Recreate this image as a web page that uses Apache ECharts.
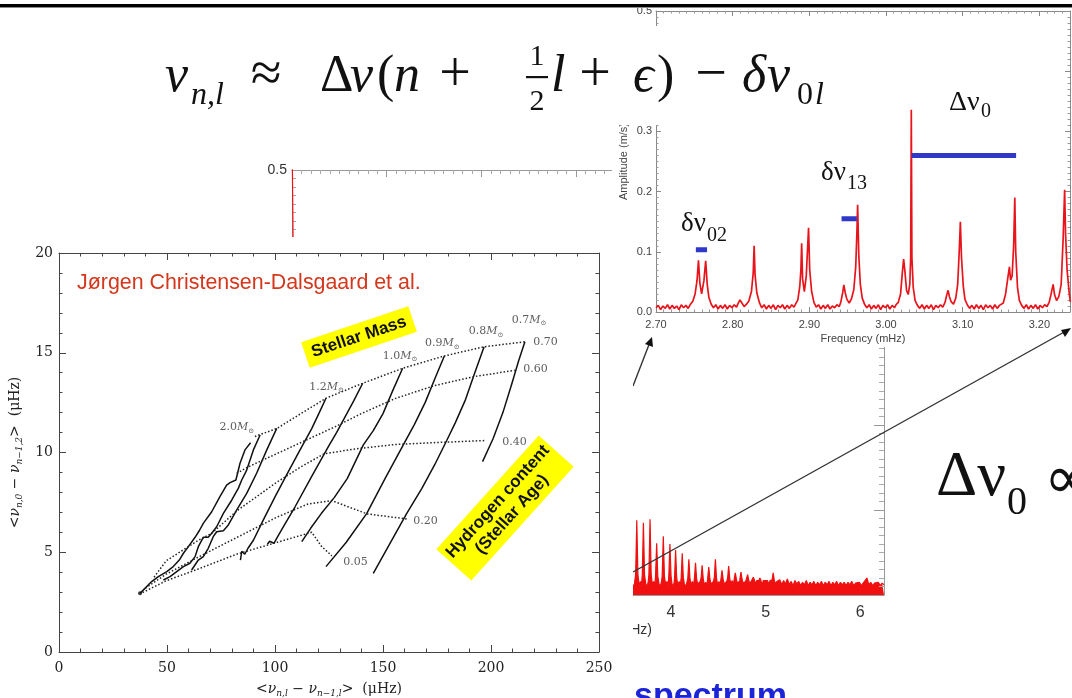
<!DOCTYPE html>
<html>
<head>
<meta charset="utf-8">
<script src="https://cdn.jsdelivr.net/npm/echarts/dist/echarts.min.js"></script>
<style>
html,body{margin:0;padding:0;background:#fff;}
#chart{width:1072px;height:698px;}
</style>
</head>
<body>
<div id="chart"></div>
<script>
// ---- Asteroseismic diagram: large vs. small frequency separation (µHz) ----
const xTicks = [0, 50, 100, 150, 200, 250];
const yTicks = [0, 5, 10, 15, 20];

// Evolution tracks of constant mass (ZAMS at the top, moving down as hydrogen burns)
const track2_0 = [[88.7,10.49],[86.1,10.13],[83.8,9.46],[81.9,8.62],[79.2,8.49],[77.6,8.37],[74.5,7.79],[70.7,7.03],[66.8,6.45],[65.0,6.09],[63.0,5.75],[59.9,5.28],[57.6,4.95],[55.7,4.61],[52.9,4.28],[49.9,4.03],[46.0,3.78],[42.9,3.53],[39.8,3.19],[37.5,2.94]];
const track1_8 = [[93.1,10.88],[90.0,10.13],[86.9,9.12],[84.6,8.62],[83.0,8.20],[80.0,7.62],[76.1,6.95],[73.0,6.28],[70.7,5.95],[69.1,5.75],[66.8,5.75],[64.5,5.28],[63.0,4.78],[60.6,4.45],[57.6,4.28],[54.5,4.03],[51.4,3.78],[48.3,3.61]];
const track1_6 = [[100.8,11.21],[96.2,10.13],[91.5,8.96],[86.9,7.95],[82.3,7.12],[78.4,6.37],[76.1,6.08],[73.0,6.03],[71.4,5.78],[69.1,5.20],[66.8,4.78],[64.5,4.61],[61.4,4.11]];
const track1_2 = [[123.6,12.72],[120.5,12.0],[117.0,11.2],[111.6,10.13],[105.5,8.9],[100.0,7.78],[94.5,6.6],[90.0,5.6],[87.5,5.2],[86.0,4.9],[84.6,5.05],[84.0,4.6]];
const track1_1 = [[140.6,13.47],[136.5,12.6],[132.5,11.8],[128.5,11.0],[124.7,10.29],[117.0,8.8],[109.3,7.28],[104.5,6.4],[101.3,5.8],[99.5,5.45],[97.5,5.55],[96.5,5.4]];
const track1_0 = [[159.1,14.22],[154.5,13.1],[150.0,11.95],[145.5,11.1],[140.9,10.38],[133.5,8.7],[127.5,7.75],[121.5,6.95],[116.5,6.2],[112.4,5.53]];
const track0_9 = [[178.4,14.84],[174.0,13.7],[169.5,12.5],[164.5,11.4],[159.4,10.38],[151.0,8.7],[142.5,6.95],[133.0,5.5],[123.6,4.28]];
const track0_8 = [[196.8,15.3],[192.5,14.0],[188.0,12.6],[183.5,11.5],[179.5,10.6],[174.0,9.4],[168.0,8.2],[161.0,6.95],[153.5,5.5],[145.5,3.94]];
const track0_7 = [[215.7,15.55],[212.8,14.6],[209.5,13.4],[205.5,12.0],[201.0,10.7],[196.1,9.54]];
const massTracks = [track2_0, track1_8, track1_6, track1_2, track1_1, track1_0, track0_9, track0_8, track0_7];

// Lines of constant central hydrogen content
const hydrogen070 = [[90.7,10.8],[93.1,10.9],[100.8,11.2],[112.0,11.95],[123.6,12.72],[140.6,13.47],[159.1,14.22],[178.4,14.84],[196.8,15.3],[215.7,15.55]];
const hydrogen060 = [[82.3,8.96],[88.0,9.3],[95.0,9.65],[104.0,10.1],[115.0,10.65],[128.0,11.3],[140.0,11.95],[155.5,12.7],[173.7,13.35],[192.0,13.8],[211.0,14.12]];
const hydrogen040 = [[44.0,3.75],[49.6,4.57],[64.2,5.58],[70.7,5.95],[82.5,7.09],[100.7,8.5],[111.7,9.26],[122.6,9.93],[137.2,10.18],[155.5,10.4],[175.0,10.5],[197.4,10.6]];
const hydrogen020 = [[40.0,3.2],[49.6,3.9],[64.2,4.74],[82.5,5.75],[100.7,6.75],[115.3,7.42],[126.3,7.59],[142.7,6.92],[161.0,6.67]];
const hydrogen005 = [[38.7,2.98],[49.6,3.57],[64.2,4.15],[82.5,4.91],[100.7,5.49],[117.0,6.0],[121.5,5.3],[126.3,4.82]];
const hydrogenLines = [hydrogen070, hydrogen060, hydrogen040, hydrogen020, hydrogen005];

const massLabels = [['2.0',82.3,11.25],['1.2',123.9,13.3],['1.0',157.9,14.84],['0.9',177.5,15.46],['0.8',197.7,16.07],['0.7',217.6,16.64]];
const hydrogenLabels = [['0.70',225.2,15.51],['0.60',220.6,14.19],['0.40',210.9,10.53],['0.20',169.7,6.57],['0.05',137.3,4.51]];

// ---- Zoomed power spectrum (mHz, m/s) ----
const insetSpectrum = [
 [2.700,0.007],[2.703,0.011],[2.706,0.004],[2.709,0.010],[2.712,0.006],[2.715,0.012],[2.718,0.005],[2.721,0.011],[2.724,0.006],[2.727,0.010],[2.730,0.004],[2.733,0.012],[2.736,0.007],[2.739,0.011],[2.742,0.006],[2.745,0.013],
 [2.748,0.018],[2.751,0.030],[2.7535,0.052],[2.7554,0.086],[2.7572,0.048],[2.7595,0.030],[2.7625,0.052],[2.7648,0.085],[2.7668,0.046],[2.769,0.024],[2.772,0.013],
 [2.775,0.007],[2.778,0.012],[2.781,0.005],[2.784,0.011],[2.787,0.006],[2.790,0.012],[2.793,0.005],[2.796,0.011],[2.799,0.007],[2.802,0.012],[2.805,0.008],
 [2.807,0.014],[2.8095,0.020],[2.811,0.022],[2.8125,0.014],[2.815,0.009],[2.818,0.013],
 [2.821,0.018],[2.8245,0.034],[2.8268,0.065],[2.828,0.110],[2.8292,0.062],[2.8315,0.032],[2.835,0.015],
 [2.838,0.007],[2.841,0.012],[2.844,0.005],[2.847,0.011],[2.850,0.006],[2.853,0.012],[2.856,0.004],[2.859,0.011],[2.862,0.007],[2.865,0.012],[2.868,0.005],[2.871,0.011],[2.874,0.006],[2.877,0.012],[2.880,0.008],[2.882,0.013],
 [2.885,0.020],[2.8875,0.042],[2.889,0.070],[2.890,0.114],[2.8912,0.055],[2.8935,0.034],[2.896,0.060],[2.899,0.140],[2.9005,0.070],[2.903,0.034],[2.906,0.016],
 [2.909,0.008],[2.912,0.012],[2.915,0.005],[2.918,0.011],[2.921,0.006],[2.924,0.012],[2.927,0.005],[2.930,0.010],[2.933,0.007],[2.936,0.012],[2.939,0.009],
 [2.941,0.016],[2.9435,0.032],[2.945,0.045],[2.9468,0.032],[2.949,0.021],[2.952,0.015],[2.955,0.022],[2.958,0.037],[2.9605,0.075],[2.962,0.130],[2.963,0.178],[2.9645,0.095],[2.9665,0.046],[2.969,0.023],[2.972,0.013],
 [2.975,0.007],[2.978,0.012],[2.981,0.005],[2.984,0.011],[2.987,0.006],[2.990,0.012],[2.993,0.004],[2.996,0.011],[2.999,0.007],[3.002,0.012],[3.005,0.005],[3.008,0.011],[3.011,0.007],[3.013,0.012],
 [3.016,0.016],[3.019,0.030],[3.0213,0.065],[3.023,0.088],[3.0245,0.070],[3.0268,0.036],[3.029,0.029],[3.031,0.046],[3.0322,0.090],[3.033,0.336],[3.0338,0.090],[3.0355,0.041],[3.038,0.019],[3.041,0.011],
 [3.044,0.006],[3.047,0.012],[3.050,0.005],[3.053,0.011],[3.056,0.006],[3.059,0.012],[3.062,0.004],[3.065,0.011],[3.068,0.007],[3.071,0.012],[3.074,0.008],
 [3.077,0.016],[3.079,0.027],[3.081,0.036],[3.0828,0.025],[3.085,0.017],[3.088,0.013],[3.091,0.023],[3.0935,0.046],[3.0955,0.100],[3.097,0.150],[3.0985,0.090],[3.1008,0.043],[3.103,0.021],[3.106,0.012],
 [3.109,0.006],[3.112,0.011],[3.115,0.005],[3.118,0.012],[3.121,0.006],[3.124,0.011],[3.127,0.004],[3.130,0.012],[3.133,0.007],[3.136,0.011],[3.139,0.005],[3.142,0.012],[3.145,0.006],[3.148,0.011],[3.150,0.008],
 [3.153,0.015],[3.156,0.030],[3.1588,0.056],[3.161,0.075],[3.1625,0.053],[3.1645,0.060],[3.1665,0.110],[3.168,0.190],[3.1692,0.100],[3.1715,0.041],[3.174,0.019],[3.177,0.011],
 [3.180,0.006],[3.183,0.012],[3.186,0.005],[3.189,0.011],[3.192,0.006],[3.195,0.012],[3.198,0.005],[3.201,0.011],[3.204,0.007],[3.207,0.012],[3.210,0.009],
 [3.213,0.017],[3.2155,0.031],[3.218,0.046],[3.2198,0.029],[3.2225,0.019],[3.2255,0.026],[3.2285,0.046],[3.231,0.120],[3.233,0.203],[3.2342,0.130],[3.2362,0.070],[3.239,0.031],[3.2405,0.017]
];
// Frequency separations marked on the zoomed spectrum: [from, to, amplitude]
const separationBars = [[2.752,2.7666,0.1035],[2.942,2.962,0.155],[3.0334,3.1697,0.26]];

// ---- Full power spectrum in the background (mHz, m/s) ----
const fullSpectrum = [
 [0.0,0.55],[0.03,0.2],[0.1,0.05],
 [3.55,0.011],[3.58,0.014],[3.60,0.010],[3.615,0.013],
 [3.628,0.024],[3.640,0.088],[3.652,0.024],[3.665,0.012],[3.68,0.016],[3.69,0.011],
 [3.698,0.024],[3.710,0.085],[3.722,0.024],[3.735,0.013],[3.748,0.010],[3.76,0.015],
 [3.768,0.024],[3.780,0.089],[3.792,0.024],[3.805,0.012],[3.818,0.016],[3.83,0.011],
 [3.838,0.022],[3.850,0.061],[3.862,0.022],[3.875,0.013],[3.888,0.010],[3.90,0.015],
 [3.908,0.022],[3.920,0.069],[3.932,0.022],[3.945,0.012],[3.958,0.016],[3.97,0.011],
 [3.978,0.022],[3.990,0.060],[4.002,0.022],[4.012,0.013],[4.025,0.010],[4.035,0.015],
 [4.039,0.021],[4.050,0.053],[4.061,0.021],[4.072,0.012],[4.088,0.016],[4.10,0.011],
 [4.109,0.021],[4.120,0.049],[4.131,0.021],[4.142,0.013],[4.157,0.010],[4.17,0.015],
 [4.179,0.020],[4.190,0.042],[4.201,0.020],[4.212,0.012],[4.227,0.016],[4.24,0.011],
 [4.249,0.020],[4.260,0.038],[4.271,0.020],[4.282,0.013],[4.297,0.011],[4.31,0.016],
 [4.319,0.020],[4.330,0.035],[4.341,0.020],[4.352,0.012],[4.367,0.015],[4.38,0.011],
 [4.389,0.020],[4.400,0.033],[4.411,0.020],[4.422,0.013],[4.437,0.011],[4.45,0.016],
 [4.459,0.021],[4.470,0.042],[4.481,0.021],[4.492,0.012],[4.507,0.016],[4.52,0.012],
 [4.529,0.019],[4.540,0.029],[4.551,0.019],[4.562,0.013],[4.577,0.011],[4.59,0.016],
 [4.599,0.020],[4.610,0.034],[4.621,0.020],[4.632,0.013],[4.647,0.017],[4.66,0.012],
 [4.669,0.019],[4.680,0.026],[4.691,0.019],[4.702,0.013],[4.715,0.016],[4.725,0.012],
 [4.729,0.019],[4.740,0.027],[4.751,0.019],[4.762,0.014],[4.777,0.012],[4.79,0.016],
 [4.799,0.018],[4.810,0.024],[4.821,0.018],[4.832,0.013],[4.847,0.016],
 [4.859,0.018],[4.870,0.021],[4.881,0.018],[4.892,0.013],[4.907,0.017],
 [4.929,0.017],[4.940,0.020],[4.951,0.017],[4.962,0.012],[4.977,0.017],
 [4.999,0.017],[5.010,0.019],[5.021,0.017],[5.032,0.012],[5.047,0.017],
 [5.069,0.018],[5.080,0.026],[5.091,0.018],[5.102,0.013],[5.12,0.016],
 [5.15,0.018],[5.17,0.012],[5.19,0.017],[5.21,0.013],[5.23,0.019],[5.25,0.012],
 [5.27,0.016],[5.29,0.011],[5.31,0.017],[5.33,0.013],[5.35,0.016],[5.37,0.011],
 [5.39,0.015],[5.41,0.012],[5.43,0.017],[5.45,0.011],[5.47,0.015],[5.49,0.012],
 [5.51,0.016],[5.53,0.011],[5.55,0.015],[5.57,0.012],[5.59,0.016],[5.61,0.011],
 [5.63,0.015],[5.65,0.012],[5.67,0.016],[5.69,0.011],[5.71,0.015],[5.73,0.012],
 [5.75,0.016],[5.77,0.011],[5.79,0.015],[5.81,0.012],[5.83,0.015],[5.85,0.011],
 [5.87,0.015],[5.89,0.012],[5.91,0.016],[5.93,0.011],[5.95,0.014],[5.97,0.012],
 [5.99,0.015],[6.01,0.011],[6.03,0.014],[6.05,0.012],[6.07,0.020],[6.09,0.012],
 [6.11,0.015],[6.13,0.011],[6.15,0.014],[6.17,0.012],[6.19,0.015],[6.21,0.011],
 [6.23,0.014],[6.25,0.012]
];

// ---------------------------------------------------------------------------
const SERIF = '"Liberation Serif", "Times New Roman", serif';
const SANS = '"Liberation Sans", Arial, sans-serif';
const IDL = '"DejaVu Serif", serif';

const chart = echarts.init(document.getElementById('chart'), null, {renderer: 'canvas'});

// labels only on whole multiples of the tick step (no label at an odd axis end)
const onStep = (v, step) => Math.abs(v / step - Math.round(v / step)) < 1e-6;

function frameAxis(base, extra) {
  return Object.assign({
    type: 'value',
    splitLine: {show: false},
    minorSplitLine: {show: false},
    axisLine: {show: true, onZero: false, lineStyle: {color: '#444', width: 1}},
    axisTick: {show: true, inside: true, length: 7, lineStyle: {color: '#444', width: 1}},
    minorTick: {show: true, splitNumber: 5, length: 3.5, lineStyle: {color: '#444', width: 1}},
    axisLabel: {show: false}
  }, base, extra || {});
}

const mainLabel = {show: true, fontFamily: IDL, fontSize: 14, color: '#222', showMinLabel: true, showMaxLabel: true};
const subRich = {
  i: {fontFamily: IDL, fontStyle: 'italic', fontSize: 14, color: '#222'},
  s: {fontFamily: IDL, fontStyle: 'italic', fontSize: 9, color: '#222', padding: [9, 0, 0, 0]},
  t: {fontFamily: IDL, fontSize: 14, color: '#222'}
};
const insetLine = {show: true, onZero: false, lineStyle: {color: '#888'}};
const insetTick = {show: true, inside: true, length: 5, lineStyle: {color: '#888'}};
const insetMinor = {show: true, splitNumber: 10, length: 2.5, lineStyle: {color: '#999'}};
const fullLine = {show: true, onZero: false, lineStyle: {color: '#999'}};

const xAxes = [
  // main diagram
  frameAxis({gridIndex: 0, position: 'bottom', min: 0, max: 250, interval: 50, z: 9,
    axisLabel: Object.assign({margin: 9}, mainLabel),
    name: '{t|<}{i|ν}{s|n,l}{t| − }{i|ν}{s|n−1,l}{t|>  (μHz)}',
    nameLocation: 'middle', nameGap: 28,
    nameTextStyle: {rich: subRich}}),
  frameAxis({gridIndex: 0, position: 'top', min: 0, max: 250, interval: 50, z: 9}),
  // zoomed spectrum
  frameAxis({gridIndex: 1, position: 'bottom', min: 2.7, max: 3.24, interval: 0.1, z: 4,
    axisLine: insetLine, axisTick: insetTick, minorTick: insetMinor,
    axisLabel: {show: true, showMaxLabel: false, margin: 7, fontFamily: SANS, fontSize: 11, color: '#444',
      formatter: v => onStep(v, 0.1) ? v.toFixed(2) : ''},
    name: 'Frequency (mHz)', nameLocation: 'middle', nameGap: 21,
    nameTextStyle: {fontFamily: SANS, fontSize: 11, color: '#444'}}),
  frameAxis({gridIndex: 1, position: 'top', min: 2.7, max: 3.24, interval: 0.1, z: 4,
    axisLine: insetLine, axisTick: insetTick, minorTick: insetMinor}),
  // full spectrum
  frameAxis({gridIndex: 2, position: 'bottom', min: 0, max: 6.25, interval: 1, z: 1,
    axisLine: fullLine, axisTick: {show: false}, minorTick: {show: false},
    axisLabel: {show: true, showMaxLabel: false, margin: 10, fontFamily: SANS, fontSize: 16, color: '#333',
      formatter: v => onStep(v, 1) ? String(Math.round(v)) : ''}}),
  frameAxis({gridIndex: 2, position: 'top', min: 0, max: 6.25, interval: 1, z: 1,
    axisLine: fullLine,
    axisTick: {show: true, inside: true, length: 7, lineStyle: {color: '#999'}},
    minorTick: {show: true, splitNumber: 10, length: 4, lineStyle: {color: '#aaa'}}})
];

const yAxes = [
  frameAxis({gridIndex: 0, position: 'left', min: 0, max: 20, interval: 5, z: 9,
    axisLabel: Object.assign({margin: 6}, mainLabel),
    name: '{t|<}{i|ν}{s|n,0}{t| − }{i|ν}{s|n−1,2}{t|>  (μHz)}',
    nameLocation: 'middle', nameGap: 31,
    nameTextStyle: {rich: subRich}}),
  frameAxis({gridIndex: 0, position: 'right', min: 0, max: 20, interval: 5, z: 9}),
  frameAxis({gridIndex: 1, position: 'left', min: 0, max: 0.5, interval: 0.1, z: 4,
    axisLine: insetLine, axisTick: insetTick, minorTick: insetMinor,
    axisLabel: {show: true, margin: 4, fontFamily: SANS, fontSize: 11, color: '#444',
      formatter: v => v.toFixed(1)},
    name: 'Amplitude (m/s)', nameLocation: 'middle', nameGap: 27,
    nameTextStyle: {fontFamily: SANS, fontSize: 11, color: '#444'}}),
  frameAxis({gridIndex: 1, position: 'right', min: 0, max: 0.5, interval: 0.1, z: 4,
    axisLine: insetLine, axisTick: insetTick, minorTick: insetMinor}),
  frameAxis({gridIndex: 2, position: 'left', min: 0, max: 0.5, interval: 0.1, z: 1,
    axisLine: fullLine,
    axisTick: {show: true, inside: true, length: 8, lineStyle: {color: '#999'}},
    minorTick: {show: true, splitNumber: 10, length: 4, lineStyle: {color: '#aaa'}},
    axisLabel: {show: true, margin: 5, fontFamily: SANS, fontSize: 14, color: '#333',
      formatter: v => v.toFixed(1)}}),
  frameAxis({gridIndex: 2, position: 'right', min: 0, max: 0.5, interval: 0.1, z: 1,
    axisLine: fullLine,
    axisTick: {show: true, inside: true, length: 10, lineStyle: {color: '#999'}},
    minorTick: {show: true, splitNumber: 10, length: 5, lineStyle: {color: '#aaa'}}})
];

const series = [];
massTracks.forEach(t => series.push({
  type: 'line', xAxisIndex: 0, yAxisIndex: 0, data: t, z: 10, silent: true,
  showSymbol: false, symbol: 'none', lineStyle: {color: '#111', width: 1.5}
}));
hydrogenLines.forEach(t => series.push({
  type: 'line', xAxisIndex: 0, yAxisIndex: 0, data: t, z: 10, silent: true,
  showSymbol: false, symbol: 'none', lineStyle: {color: '#222', width: 1.5, type: [1.5, 2]}
}));
series.push({
  type: 'scatter', xAxisIndex: 0, yAxisIndex: 0, z: 11, silent: true,
  symbolSize: 4, itemStyle: {color: '#111'}, data: [track2_0[track2_0.length - 1]]
});
series.push({
  type: 'scatter', xAxisIndex: 0, yAxisIndex: 0, z: 11, silent: true, symbolSize: 0,
  data: massLabels.map(m => ({name: m[0], value: [m[1], m[2]]})),
  label: {show: true, position: 'inside', fontFamily: IDL, fontSize: 11, color: '#333',
    formatter: p => p.name + '{m|M}{o|⊙}',
    rich: {m: {fontFamily: IDL, fontStyle: 'italic', fontSize: 11, color: '#333'},
           o: {fontFamily: IDL, fontSize: 7, color: '#333', padding: [7, 0, 0, 0]}}}
});
series.push({
  type: 'scatter', xAxisIndex: 0, yAxisIndex: 0, z: 11, silent: true, symbolSize: 0,
  data: hydrogenLabels.map(m => ({name: m[0], value: [m[1], m[2]]})),
  label: {show: true, position: 'inside', fontFamily: IDL, fontSize: 11, color: '#333',
    formatter: p => p.name}
});
series.push({
  type: 'line', xAxisIndex: 2, yAxisIndex: 2, data: insetSpectrum, z: 4, silent: true,
  showSymbol: false, symbol: 'none', lineStyle: {color: '#e8141c', width: 1.7}
});
separationBars.forEach(b => series.push({
  type: 'line', xAxisIndex: 2, yAxisIndex: 2, data: [[b[0], b[2]], [b[1], b[2]]], z: 5, silent: true,
  showSymbol: false, symbol: 'none', lineStyle: {color: '#2f38c8', width: 5, cap: 'butt'}
}));
series.push({
  type: 'line', xAxisIndex: 4, yAxisIndex: 4, data: fullSpectrum, z: 1, silent: true,
  showSymbol: false, symbol: 'none', lineStyle: {color: '#f01010', width: 1.2},
  areaStyle: {color: '#f01010', opacity: 1}
});

// text pieces placed by their baseline
function word(text, x, baseline, size, opt) {
  opt = opt || {};
  const font = (opt.italic ? 'italic ' : '') + (opt.bold ? 'bold ' : '') + size + 'px ' + (opt.family || SERIF);
  return {
    type: 'text', x: x, y: baseline - 0.34 * size, z: opt.z || 7, silent: true,
    style: {text: text, font: font, fill: opt.color || '#111',
      align: opt.align || 'left', verticalAlign: 'middle',
      textAlign: opt.align || 'left', textVerticalAlign: 'middle'}
  };
}

const graphics = [
  // panel backgrounds (stacking order of the slide)
  {type: 'rect', z: 3, silent: true, shape: {x: 612, y: 8, width: 460, height: 339}, style: {fill: '#fff'}},
  {type: 'rect', z: 6, silent: true, shape: {x: 150, y: 26, width: 700, height: 99}, style: {fill: '#fff'}},
  {type: 'rect', z: 8, silent: true, shape: {x: 0, y: 237, width: 633, height: 461}, style: {fill: '#fff'}},
  // slide rule at the top
  {type: 'rect', z: 12, silent: true, shape: {x: 0, y: 4, width: 1072, height: 3}, style: {fill: '#000'}},
  {type: 'rect', z: 12, silent: true, shape: {x: 0, y: 7, width: 1072, height: 1}, style: {fill: '#888'}},

  // formula
  word('ν', 165, 95, 52, {italic: true}),
  word('n,l', 191, 106, 32, {italic: true}),
  word('≈', 266, 95, 56, {align: 'center'}),
  word('Δ', 320, 95, 52),
  word('ν', 350, 95, 52, {italic: true}),
  word('(', 377, 95, 52),
  word('n', 394, 95, 52, {italic: true}),
  word('+', 455, 95, 56, {align: 'center'}),
  word('1', 537, 67, 30, {align: 'center'}),
  {type: 'rect', z: 7, silent: true, shape: {x: 526, y: 76, width: 22, height: 2.2}, style: {fill: '#111'}},
  word('2', 537, 112, 30, {align: 'center'}),
  word('l', 551, 95, 52, {italic: true}),
  word('+', 595, 95, 56, {align: 'center'}),
  word('ϵ', 633, 95, 52, {italic: true}),
  word(')', 657, 95, 52),
  word('−', 711, 95, 56, {align: 'center'}),
  word('δ', 742, 95, 52, {italic: true}),
  word('ν', 767, 95, 52, {italic: true}),
  word('0', 797, 106, 32),
  word('l', 815, 106, 32, {italic: true}),

  // separation labels on the zoomed spectrum
  word('δν', 681, 233, 27, {z: 5}),
  word('02', 707, 243, 20, {z: 5}),
  word('δν', 821, 182, 27, {z: 5}),
  word('13', 847, 191, 20, {z: 5}),
  word('Δν', 949, 112, 28, {z: 5}),
  word('0', 981, 119, 20, {z: 5}),

  // large-separation scaling on the slide
  word('Δν', 936, 500, 64, {z: 5}),
  word('0', 1007, 517, 40, {z: 5}),
  word('∝', 1044, 503, 60, {z: 5}),

  // full-spectrum axis title and slide caption
  word('Frequency (mHz)', 652, 635, 14, {family: SANS, color: '#333', align: 'right', z: 1}),
  word('spectrum', 634, 708, 34, {family: SANS, bold: true, color: '#1c24d8', z: 2}),

  // callout lines from the full spectrum to the zoom
  {type: 'line', z: 5, silent: true, shape: {x1: 633, y1: 572, x2: 1066, y2: 331}, style: {stroke: '#333', lineWidth: 1.4}},
  {type: 'polygon', z: 5, silent: true, shape: {points: [[1071, 328], [1065, 337], [1061, 330]]}, style: {fill: '#111'}},
  {type: 'line', z: 5, silent: true, shape: {x1: 633, y1: 386, x2: 650, y2: 342}, style: {stroke: '#333', lineWidth: 1.4}},
  {type: 'polygon', z: 5, silent: true, shape: {points: [[652, 337], [653, 347], [645, 344]]}, style: {fill: '#111'}},

  // main diagram annotations
  word('Jørgen Christensen-Dalsgaard et al.', 77, 290, 21.4, {family: SANS, color: '#d4371c', z: 11}),
  {type: 'group', x: 359, y: 337, rotation: 18.5 * Math.PI / 180, z: 11, children: [
    {type: 'rect', z: 11, silent: true, shape: {x: -56.5, y: -13.5, width: 113, height: 27}, style: {fill: '#ffff00'}},
    {type: 'text', z: 12, silent: true, x: 0, y: 0, style: {text: 'Stellar Mass', font: 'bold 17px ' + SANS, fill: '#111',
      align: 'center', verticalAlign: 'middle', textAlign: 'center', textVerticalAlign: 'middle'}}
  ]},
  {type: 'group', x: 505, y: 508, rotation: 48 * Math.PI / 180, z: 11, children: [
    {type: 'rect', z: 11, silent: true, shape: {x: -76.5, y: -23.5, width: 153, height: 47}, style: {fill: '#ffff00'}},
    {type: 'text', z: 12, silent: true, x: 0, y: 0, style: {text: 'Hydrogen content\n(Stellar Age)', font: 'bold 17px ' + SANS,
      lineHeight: 19, fill: '#111', align: 'center', verticalAlign: 'middle', textAlign: 'center', textVerticalAlign: 'middle'}}
  ]}
];

chart.setOption({
  animation: false,
  backgroundColor: '#fff',
  grid: [
    {left: 59, top: 253, width: 540, height: 399, containLabel: false, outerBoundsMode: 'none'},
    {left: 656, top: 11, width: 414, height: 301, containLabel: false, outerBoundsMode: 'none'},
    {left: 292, top: 170, width: 592, height: 425, containLabel: false, outerBoundsMode: 'none'}
  ],
  xAxis: xAxes,
  yAxis: yAxes,
  series: series,
  graphic: graphics
});
</script>
</body>
</html>
